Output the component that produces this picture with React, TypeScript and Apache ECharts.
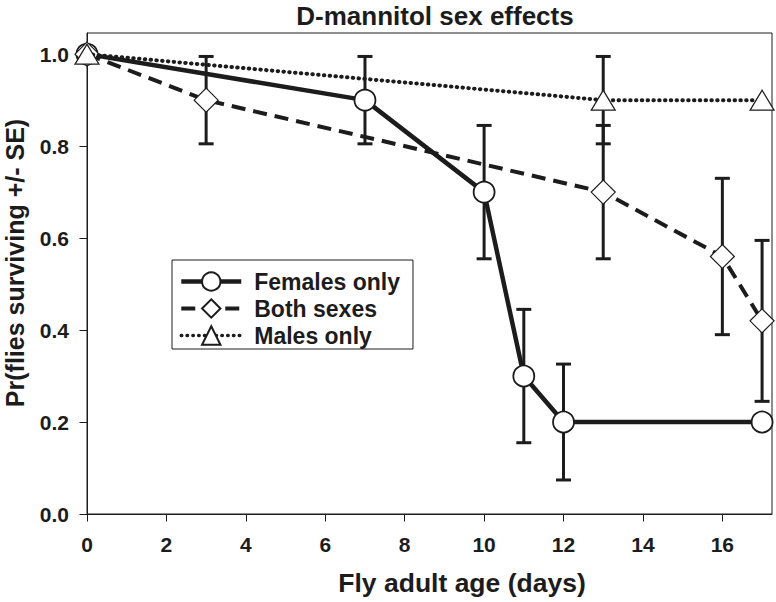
import React, { useEffect, useRef } from "react";
import * as echarts from "echarts";

const titleText = "D-mannitol sex effects";
const xAxisTitle = "Fly adult age (days)";
const yAxisTitle = "Pr(flies surviving +/- SE)";

const xTicks = [0, 2, 4, 6, 8, 10, 12, 14, 16];
const yTicks = [0, 0.2, 0.4, 0.6, 0.8, 1.0];

const femalesName = "Females only";
const femalesDays = [0, 7, 10, 11, 12, 17];
const femalesSurv = [1.0, 0.9, 0.7, 0.3, 0.2, 0.2];
const femalesSE = [0, 0.095, 0.145, 0.145, 0.126, 0];

const bothName = "Both sexes";
const bothDays = [0, 3, 13, 16, 17];
const bothSurv = [1.0, 0.9, 0.7, 0.56, 0.42];
const bothSE = [0, 0.095, 0.145, 0.17, 0.175];

const malesName = "Males only";
const malesDays = [0, 13, 17];
const malesSurv = [1.0, 0.9, 0.9];
const malesSE = [0, 0.095, 0];

const INK = "#1c1c1c";
const FONT = "'Liberation Sans', Arial, Helvetica, sans-serif";

const solidStyle = { color: INK, width: 4.5, type: "solid" };
const dashStyle = { color: INK, width: 4, type: [14, 8] };
const dotStyle = { color: INK, width: 4, type: [0.5, 5.3], cap: "round" };

function pairs(xs: number[], ys: number[]) {
  return xs.map((x, i) => [x, ys[i]]);
}

function errData(xs: number[], ys: number[], se: number[]) {
  const out: number[][] = [];
  xs.forEach((x, i) => {
    if (se[i] > 0) out.push([x, ys[i] - se[i], ys[i] + se[i]]);
  });
  return out;
}

function errorSeries(data: number[][]) {
  return {
    type: "custom",
    z: 1,
    silent: true,
    clip: false,
    encode: { x: 0, y: [1, 2] },
    data,
    renderItem: (params: any, api: any) => {
      const x = api.value(0);
      const lo = api.coord([x, api.value(1)]);
      const hi = api.coord([x, api.value(2)]);
      const half = 7.5;
      const style = { stroke: INK, lineWidth: 3 };
      return {
        type: "group",
        children: [
          { type: "line", shape: { x1: lo[0], y1: lo[1], x2: hi[0], y2: hi[1] }, style },
          { type: "line", shape: { x1: lo[0] - half, y1: lo[1], x2: lo[0] + half, y2: lo[1] }, style },
          { type: "line", shape: { x1: hi[0] - half, y1: hi[1], x2: hi[0] + half, y2: hi[1] }, style },
        ],
      };
    },
  };
}

export default function App() {
  const ref = useRef<HTMLDivElement>(null);

  useEffect(() => {
    document.body.style.margin = "0";
    const chart = echarts.init(ref.current as HTMLDivElement, null, { renderer: "svg" });
    const option: any = {
      animation: false,
      backgroundColor: "#ffffff",
      grid: {
        left: 87,
        right: 4,
        top: 33,
        bottom: 88,
        show: true,
        borderColor: INK,
        borderWidth: 1,
        backgroundColor: "transparent",
      },
      xAxis: {
        type: "value",
        min: 0,
        max: 17.25,
        splitLine: { show: false },
        axisLine: { show: true, onZero: false, lineStyle: { color: INK, width: 1 } },
        axisTick: { show: true, inside: false, length: 7.5, customValues: xTicks, lineStyle: { color: INK } },
        axisLabel: {
          customValues: xTicks,
          margin: 20,
          color: INK,
          fontFamily: FONT,
          fontWeight: "bold",
          fontSize: 21,
        },
      },
      yAxis: {
        type: "value",
        min: 0,
        max: 1.046,
        splitLine: { show: false },
        axisLine: { show: true, onZero: false, lineStyle: { color: INK, width: 1 } },
        axisTick: { show: true, inside: false, length: 7.5, customValues: yTicks, lineStyle: { color: INK } },
        axisLabel: {
          customValues: yTicks,
          margin: 18,
          color: INK,
          fontFamily: FONT,
          fontWeight: "bold",
          fontSize: 21,
          formatter: (v: number) => v.toFixed(1),
        },
      },
      legend: {
        show: true,
        orient: "vertical",
        left: 172,
        top: 260,
        padding: [10, 13, 2, 7],
        itemGap: 4,
        itemWidth: 60,
        itemHeight: 23,
        borderColor: INK,
        borderWidth: 1,
        backgroundColor: "#ffffff",
        lineStyle: { width: 4 },
        textStyle: {
          color: INK,
          fontFamily: FONT,
          fontWeight: "bold",
          fontSize: 23,
          padding: [0, 0, 0, 8],
        },
        data: [
          { name: femalesName, lineStyle: { width: 4.5 } },
          { name: bothName, lineStyle: { width: 4 } },
          { name: malesName, lineStyle: { width: 3.5 } },
        ],
      },
      graphic: [
        {
          type: "text",
          x: 435,
          y: 16,
          style: {
            text: titleText,
            fill: INK,
            font: `bold 26px ${FONT}`,
            textAlign: "center",
            textVerticalAlign: "middle",
          },
        },
        {
          type: "text",
          x: 462,
          y: 583,
          style: {
            text: xAxisTitle,
            fill: INK,
            font: `bold 26.5px ${FONT}`,
            textAlign: "center",
            textVerticalAlign: "middle",
          },
        },
        {
          type: "text",
          x: 15,
          y: 263,
          rotation: Math.PI / 2,
          style: {
            text: yAxisTitle,
            fill: INK,
            font: `bold 25px ${FONT}`,
            textAlign: "center",
            textVerticalAlign: "middle",
          },
        },
      ],
      series: [
        errorSeries(errData(femalesDays, femalesSurv, femalesSE)),
        errorSeries(errData(bothDays, bothSurv, bothSE)),
        errorSeries(errData(malesDays, malesSurv, malesSE)),
        {
          name: femalesName,
          type: "line",
          z: 3,
          clip: false,
          data: pairs(femalesDays, femalesSurv),
          symbol: "circle",
          symbolSize: 21,
          showAllSymbol: true,
          lineStyle: solidStyle,
          itemStyle: { color: "#ffffff", borderColor: INK, borderWidth: 1.8 },
        },
        {
          name: bothName,
          type: "line",
          z: 4,
          clip: false,
          data: pairs(bothDays, bothSurv),
          symbol: "diamond",
          symbolSize: [24, 24],
          showAllSymbol: true,
          lineStyle: dashStyle,
          itemStyle: { color: "#ffffff", borderColor: INK, borderWidth: 1.2 },
        },
        {
          name: malesName,
          type: "line",
          z: 5,
          clip: false,
          data: pairs(malesDays, malesSurv),
          symbol: "triangle",
          symbolSize: [24, 20],
          showAllSymbol: true,
          lineStyle: dotStyle,
          itemStyle: { color: "#ffffff", borderColor: INK, borderWidth: 1.2 },
        },
      ],
    };
    chart.setOption(option);
    return () => chart.dispose();
  }, []);

  return (
    <div
      ref={ref}
      style={{ position: "fixed", left: 0, top: 0, width: 776, height: 602 }}
    />
  );
}
